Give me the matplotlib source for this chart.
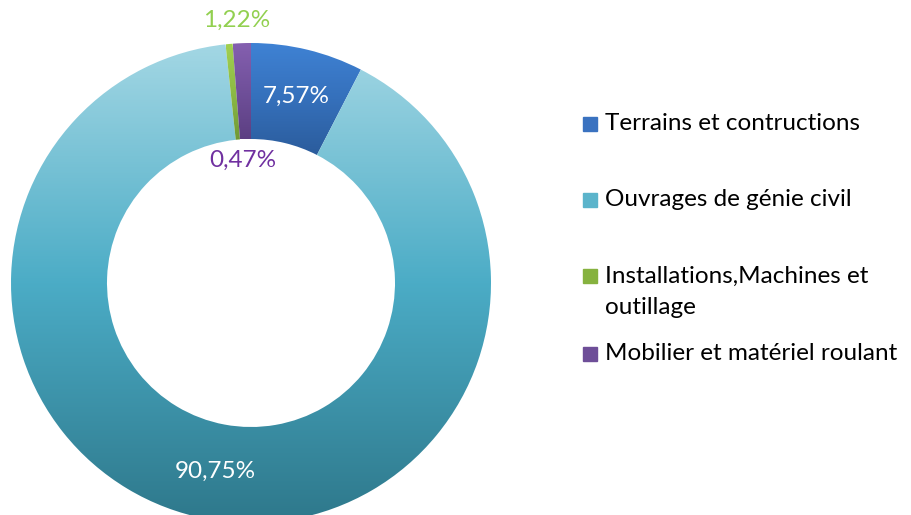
import numpy as np
import matplotlib.pyplot as plt
from matplotlib.colors import LinearSegmentedColormap
from matplotlib.patches import Rectangle

plt.rcParams['font.family'] = ['Lato', 'DejaVu Sans']

categories = ["Terrains et contructions", "Ouvrages de génie civil",
              "Installations,Machines et\noutillage", "Mobilier et matériel roulant"]
values = [7.57, 90.75, 0.47, 1.22]
pct_labels = ["7,57%", "90,75%", "1,22%", "0,47%"]
label_colors = ["white", "white", "#92D050", "#7030A0"]

# gradient stops (top, middle, bottom) per slice
grads = [
    ["#3F82D4", "#3570BB", "#2B5C9C"],
    ["#A3D7E4", "#4BACC6", "#2E788B"],
    ["#A2D050", "#8DBB45", "#6F9836"],
    ["#8560B0", "#70509A", "#5C3F82"],
]
legend_colors = ["#3A72C0", "#5BB4CB", "#86B23F", "#6E4E98"]

fig = plt.figure(figsize=(9.11, 5.15), dpi=100)
cx, cy, R = 251, 283, 240
ax = fig.add_axes([(cx - R) / 911, (515 - cy - R) / 515, 2 * R / 911, 2 * R / 515])

wedges, _ = ax.pie(values, startangle=90, counterclock=False, radius=1,
                   wedgeprops=dict(width=0.4, linewidth=0))
ax.axis('off')

grad = np.linspace(0, 1, 256).reshape(-1, 1)
for w, stops in zip(wedges, grads):
    w.set_facecolor('none')
    ext = w.get_path().get_extents()
    cmap = LinearSegmentedColormap.from_list('g', stops)
    im = ax.imshow(grad, cmap=cmap, aspect='auto', origin='upper',
                   extent=(ext.x0, ext.x1, ext.y0, ext.y1), zorder=1)
    im.set_clip_path(w)
ax.set_xlim(-1, 1)
ax.set_ylim(-1, 1)

# data labels at mid-ring, small slices moved outside/inside
for i, w in enumerate(wedges):
    ang = np.deg2rad((w.theta1 + w.theta2) / 2)
    x, y = 0.8 * np.cos(ang), 0.8 * np.sin(ang)
    if i == 2:
        x, y = -0.058, 1.096
    elif i == 3:
        x, y = -0.033, 0.512
    ax.text(x, y, pct_labels[i], ha='center', va='center', fontsize=17.5,
            color=label_colors[i], zorder=5, clip_on=False)

# legend
rows = [124, 200, 276, 354]
for lab, col, py in zip(categories, legend_colors, rows):
    fig.add_artist(Rectangle((583 / 911, (515 - py - 7) / 515), 14 / 911, 14 / 515,
                             transform=fig.transFigure, color=col))
    for k, line in enumerate(lab.split('\n')):
        fig.text(605 / 911, (515 - py - 32 * k) / 515, line, fontsize=17.5,
                 va='center', ha='left')

fig.savefig('out.png', dpi=100)
